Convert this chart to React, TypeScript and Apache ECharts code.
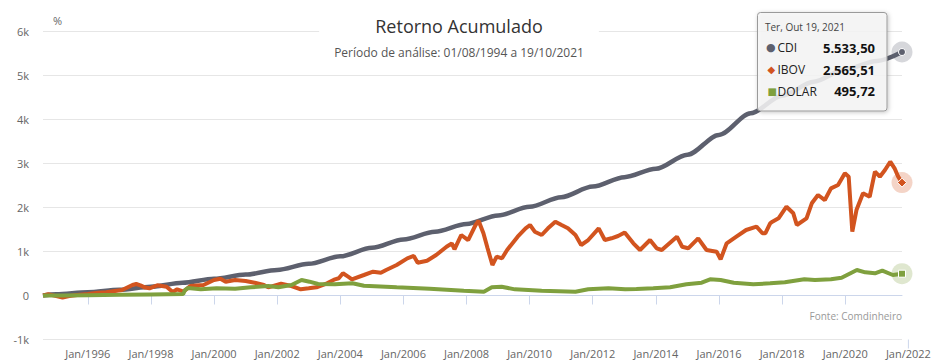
import React, { useEffect, useRef } from 'react';
import * as echarts from 'echarts';

const FONT = '"Open Sans", "Noto Sans", sans-serif';

const startDate = '1994-08-01';
const endDate = '2021-10-19';

const cdiDates = ['1994-08-01','1995-01-01','1996-01-01','1997-01-01','1998-01-01','1999-01-01','2000-01-01','2001-01-01','2002-01-01','2003-01-01','2004-01-01','2005-01-01','2006-01-01','2007-01-01','2008-01-01','2009-01-01','2010-01-01','2011-01-01','2012-01-01','2013-01-01','2014-01-01','2015-01-01','2016-01-01','2017-01-01','2018-01-01','2019-01-01','2020-01-01','2021-01-01','2021-10-19'];
const cdiValues = [0,30,75,130,200,290,380,475,580,720,890,1085,1275,1450,1625,1820,2015,2235,2475,2690,2880,3200,3650,4140,4540,4860,5140,5330,5533.5];

const ibovDates = ['1994-08-01','1994-10-01','1995-01-01','1995-03-15','1995-06-01','1995-09-01','1996-01-01','1996-05-01','1996-08-01','1997-02-01','1997-06-01','1997-07-15','1997-09-01','1997-10-28','1997-12-15','1998-03-15','1998-07-01','1998-09-10','1998-11-01','1999-01-15','1999-04-01','1999-09-01','2000-01-01','2000-03-15','2000-05-15','2000-09-01','2001-01-01','2001-04-15','2001-08-01','2001-09-20','2002-02-15','2002-06-15','2002-10-01','2003-01-01','2003-04-01','2003-08-01','2003-11-01','2003-12-15','2004-02-01','2004-04-01','2004-05-15','2004-10-01','2005-01-15','2005-04-15','2005-06-15','2005-10-15','2006-02-15','2006-05-01','2006-06-15','2006-10-01','2007-01-15','2007-05-15','2007-07-15','2007-08-15','2007-11-01','2008-01-20','2008-04-15','2008-05-20','2008-07-15','2008-09-01','2008-10-27','2008-12-15','2009-02-15','2009-04-15','2009-08-15','2009-11-15','2010-01-05','2010-03-01','2010-05-20','2010-08-01','2010-10-25','2011-01-05','2011-03-20','2011-06-15','2011-08-20','2011-11-10','2012-03-10','2012-05-20','2012-08-05','2012-10-20','2013-01-05','2013-04-15','2013-07-01','2013-10-25','2014-01-10','2014-03-10','2014-09-01','2014-11-01','2015-01-10','2015-05-05','2015-08-10','2015-12-05','2016-01-20','2016-03-30','2016-07-20','2016-11-10','2017-03-10','2017-05-18','2017-06-20','2017-08-15','2017-09-10','2017-11-20','2018-02-20','2018-05-10','2018-06-20','2018-10-10','2018-12-10','2019-02-20','2019-05-10','2019-07-20','2019-10-10','2019-12-28','2020-02-10','2020-03-23','2020-05-10','2020-07-25','2020-10-10','2020-12-10','2021-02-05','2021-04-05','2021-06-05','2021-07-25','2021-09-05','2021-10-19'];
const ibovValues = [0,30,-15,-45,-10,10,34,60,72,125,239,261,230,180,163,232,200,80,140,90,216,239,352,382,314,352,330,291,239,186,268,216,140,163,186,277,368,391,505,428,368,466,541,518,580,693,845,898,745,791,920,1109,1186,1050,1375,1261,1602,1700,1414,1073,693,882,845,1034,1337,1527,1602,1450,1375,1527,1678,1602,1527,1375,1148,1261,1527,1261,1300,1352,1430,1186,1034,1261,1073,1034,1337,1109,1073,1300,1034,995,822,1186,1337,1489,1564,1414,1414,1641,1678,1754,2018,1868,1602,1754,2095,2284,2170,2436,2511,2777,2700,1450,1943,2322,2245,2814,2700,2852,3041,2891,2700,2565.51];

const dolarDates = ['1994-08-01','1995-03-01','1996-01-01','1997-01-01','1998-01-01','1999-01-10','1999-01-31','1999-03-05','1999-08-01','2000-02-01','2000-09-01','2001-03-01','2001-09-20','2002-01-15','2002-06-15','2002-10-10','2003-01-10','2003-04-20','2003-11-01','2004-05-20','2004-10-01','2005-10-15','2006-11-01','2007-12-01','2008-07-20','2008-10-20','2009-02-10','2009-07-15','2010-05-20','2011-06-15','2011-11-10','2012-07-01','2013-01-10','2013-05-20','2013-12-01','2014-06-15','2014-12-20','2015-06-15','2015-09-20','2016-01-20','2016-06-20','2017-02-01','2017-08-15','2018-02-01','2018-09-15','2019-01-15','2019-07-20','2019-11-20','2020-05-15','2020-08-20','2020-12-10','2021-03-05','2021-07-05','2021-10-19'];
const dolarValues = [0,0,8,15,25,35,125,170,140,163,155,186,216,186,239,352,314,261,254,277,223,186,155,109,86,186,200,140,109,86,140,163,140,148,163,186,254,291,368,352,291,254,277,300,368,352,368,405,580,527,505,564,466,495.72];

const xTickDates = ['1996-01-01','1998-01-01','2000-01-01','2002-01-01','2004-01-01','2006-01-01','2008-01-01','2010-01-01','2012-01-01','2014-01-01','2016-01-01','2018-01-01','2020-01-01','2022-01-01'];
const xTickLabels = ['Jan/1996','Jan/1998','Jan/2000','Jan/2002','Jan/2004','Jan/2006','Jan/2008','Jan/2010','Jan/2012','Jan/2014','Jan/2016','Jan/2018','Jan/2020','Jan/2022'];
const yTickValues = [-1000,0,1000,2000,3000,4000,5000,6000];
const yTickLabels = ['-1k','0','1k','2k','3k','4k','5k','6k'];

const seriesNames = ['CDI', 'IBOV', 'DOLAR'];
const seriesColors = ['#5d606e', '#d2541f', '#7fa03e'];
const haloColors = ['rgba(93,96,110,0.25)', 'rgba(210,84,31,0.25)', 'rgba(127,160,62,0.25)'];
const markerGlyphs = ['●', '◆', '■'];
const endSymbols = ['circle', 'diamond', 'rect'];

const weekDays = ['Dom', 'Seg', 'Ter', 'Qua', 'Qui', 'Sex', 'Sáb'];
const monthNames = ['Jan', 'Fev', 'Mar', 'Abr', 'Mai', 'Jun', 'Jul', 'Ago', 'Set', 'Out', 'Nov', 'Dez'];

const ts = (s: string) => {
  const [y, m, d] = s.split('-').map(Number);
  return new Date(y, m - 1, d).getTime();
};

const fmtBR = (v: number) => {
  const [i, d] = v.toFixed(2).split('.');
  return i.replace(/\B(?=(\d{3})+(?!\d))/g, '.') + ',' + d;
};

export default function App() {
  const ref = useRef<HTMLDivElement>(null);

  useEffect(() => {
    document.body.style.margin = '0';
    if (!ref.current) return;
    const chart = echarts.init(ref.current, null, { renderer: 'svg' });

    const allDates = [cdiDates, ibovDates, dolarDates];
    const allValues = [cdiValues, ibovValues, dolarValues];
    const xTickTs = xTickDates.map(ts);

    const series = seriesNames.map((name, k) => {
      const dates = allDates[k];
      const vals = allValues[k];
      const lastT = ts(dates[dates.length - 1]);
      const lastV = vals[vals.length - 1];
      return {
        name,
        type: 'line',
        showSymbol: false,
        smooth: k === 0 ? 0.3 : false,
        smoothMonotone: 'x',
        data: dates.map((d, i) => [ts(d), vals[i]]),
        lineStyle: { color: seriesColors[k], width: k === 0 ? 4.5 : 4 },
        itemStyle: { color: seriesColors[k] },
        z: 2 + k,
        markPoint: {
          silent: true,
          label: { show: false },
          data: [
            { coord: [lastT, lastV], symbol: 'circle', symbolSize: 21, itemStyle: { color: haloColors[k] } },
            { coord: [lastT, lastV], symbol: endSymbols[k], symbolSize: k === 1 ? 9 : 7, itemStyle: { color: seriesColors[k], borderColor: '#fff', borderWidth: 1 } },
          ],
        },
      };
    });

    const labelFor = (v: number) => {
      const idx = xTickTs.indexOf(v);
      return idx >= 0 ? xTickLabels[idx] : '';
    };

    chart.setOption({
      animation: false,
      textStyle: { fontFamily: FONT },
      title: {
        text: 'Retorno Acumulado',
        subtext: 'Período de análise: 01/08/1994 a 19/10/2021',
        left: 444,
        top: 8,
        textAlign: 'center',
        padding: [9, 15, 6, 15],
        itemGap: 11,
        backgroundColor: '#ffffff',
        textStyle: { fontSize: 18, fontWeight: 'normal', color: '#333333', fontFamily: FONT },
        subtextStyle: { fontSize: 12, color: '#555555', fontFamily: FONT },
      },
      grid: { left: 43, right: 42, top: 31.5, bottom: 24.5 },
      xAxis: {
        type: 'value',
        min: ts(startDate),
        max: ts(endDate),
        axisLine: { show: true, lineStyle: { color: '#ccd6eb', width: 1 } },
        axisTick: { show: true, length: 9, lineStyle: { color: '#ccd6eb' }, customValues: xTickTs },
        axisLabel: { customValues: xTickTs, formatter: labelFor, color: '#666666', fontSize: 11, margin: 8, fontFamily: FONT, hideOverlap: false },
        splitLine: { show: false },
      },
      yAxis: {
        type: 'value',
        min: -1000,
        max: 6000,
        interval: 1000,
        axisLine: { show: false },
        axisTick: { show: false },
        axisLabel: {
          color: '#666666', fontSize: 11, margin: 14, fontFamily: FONT,
          formatter: (v: number) => { const i = yTickValues.indexOf(v); return i >= 0 ? yTickLabels[i] : String(v); },
        },
        splitLine: { lineStyle: { color: '#e6e6e6' } },
      },
      series,
    });

    const lastTick = xTickTs[xTickTs.length - 1];
    const px2022 = chart.convertToPixel({ xAxisIndex: 0 }, lastTick) as number;
    const axisY = chart.convertToPixel({ yAxisIndex: 0 }, -1000) as number;

    const lastDate = cdiDates[cdiDates.length - 1];
    const [ly, lm, ld] = lastDate.split('-').map(Number);
    const dObj = new Date(ly, lm - 1, ld);
    const header = `${weekDays[dObj.getDay()]}, ${monthNames[lm - 1]} ${ld}, ${ly}`;
    const lastVals = allValues.map((v) => v[v.length - 1]);

    const Z = 100;
    const tipX = 757.5, tipY = 12.5, tipW = 129.5, tipH = 98.5;
    const rowY = [47.5, 69.5, 91];
    const tipChildren: any[] = [
      {
        type: 'rect', z: Z, shape: { x: tipX, y: tipY, width: tipW, height: tipH, r: 3 },
        style: { fill: 'rgba(247,247,247,0.85)', stroke: '#9a9a9a', lineWidth: 1, shadowBlur: 4, shadowColor: 'rgba(0,0,0,0.25)', shadowOffsetX: 1, shadowOffsetY: 1 },
      },
      {
        type: 'text', z: Z + 1, x: 765, y: 27,
        style: { text: header, fontSize: 10, fill: '#444444', fontFamily: FONT, verticalAlign: 'middle', align: 'left' },
      },
    ];
    seriesNames.forEach((name, k) => {
      tipChildren.push({
        type: 'text', z: Z + 1, x: k === 0 ? 766 : 767.5, y: rowY[k],
        style: { text: markerGlyphs[k], fontSize: k === 0 ? 11 : 10, fill: seriesColors[k], verticalAlign: 'middle', align: 'left', fontFamily: '"DejaVu Sans", sans-serif' },
      });
      tipChildren.push({
        type: 'text', z: Z + 1, x: 777.5, y: rowY[k],
        style: { text: name, fontSize: 12, fill: '#222222', verticalAlign: 'middle', align: 'left', fontFamily: FONT },
      });
      tipChildren.push({
        type: 'text', z: Z + 1, x: 875, y: rowY[k],
        style: { text: fmtBR(lastVals[k]), fontSize: 13, fontWeight: 'bold', fill: '#111111', verticalAlign: 'middle', align: 'right', fontFamily: FONT },
      });
    });

    chart.setOption({
      graphic: [
        {
          type: 'text', id: 'yAxisName', z: 10, x: 53, y: 20,
          style: { text: '%', fontSize: 11, fill: '#666666', fontFamily: FONT, align: 'left', verticalAlign: 'middle' },
        },
        {
          type: 'line', id: 'extraTickLine', z: 10,
          shape: { x1: px2022, y1: axisY, x2: px2022, y2: axisY + 9 }, style: { stroke: '#ccd6eb', lineWidth: 1 },
        },
        {
          type: 'text', id: 'extraTickLabel', z: 10, x: px2022, y: axisY + 8,
          style: { text: xTickLabels[xTickLabels.length - 1], fontSize: 11, fill: '#666666', fontFamily: FONT, align: 'center', verticalAlign: 'top' },
        },
        {
          type: 'text', id: 'credits', right: 42, top: 311, z: 10,
          style: { text: 'Fonte: Comdinheiro', fontSize: 10, fill: '#999999', fontFamily: FONT },
        },
        { type: 'group', id: 'tooltip', children: tipChildren },
      ],
    });

    return () => chart.dispose();
  }, []);

  return <div ref={ref} style={{ width: 944, height: 364 }} />;
}
